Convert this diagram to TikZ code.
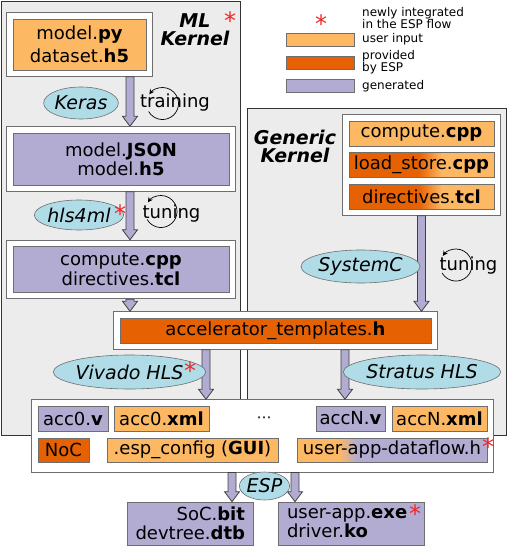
\documentclass[tikz,border=0pt]{standalone}
\usepackage{fontspec}
\setmainfont{DejaVu Sans}
\newfontfamily\keyfont{DejaVu Sans}
\usetikzlibrary{
  arrows.meta,
  positioning,
  fit,
  calc,
  shapes.geometric,
  backgrounds
}
\definecolor{UserOrange}{RGB}{253,184,99}
\definecolor{EspOrange}{RGB}{230,97,1}
\definecolor{GenPurple}{RGB}{178,171,210}
\definecolor{ToolBlue}{RGB}{176,220,232}
\definecolor{PanelGray}{RGB}{236,236,236}
\definecolor{EdgeGray}{RGB}{110,110,110}
\definecolor{StarRed}{RGB}{240,40,40}
\pgfdeclarehorizontalshading{espmix}{100bp}{color(0bp)=(EspOrange); color(49bp)=(EspOrange); color(57bp)=(UserOrange); color(100bp)=(UserOrange)}
\pgfdeclarehorizontalshading{usermix}{100bp}{color(0bp)=(UserOrange); color(36bp)=(UserOrange); color(41bp)=(GenPurple); color(100bp)=(GenPurple)}
\tikzset{
  panel/.style={draw=black!80,fill=PanelGray,line width=0.8pt,anchor=north west,inner sep=0pt},
  holder/.style={draw=EdgeGray,fill=white,line width=0.8pt,inner sep=6pt},
  filebox/.style={draw=EdgeGray,line width=0.6pt,inner sep=0pt,align=center,font=\fontsize{18}{19}\selectfont},
  userfile/.style={filebox,fill=UserOrange},
  espfile/.style={filebox,fill=EspOrange},
  genfile/.style={filebox,fill=GenPurple},
  mixfile/.style={filebox,shade,shading=espmix},
  mixgen/.style={filebox,shade,shading=usermix},
  tool/.style={ellipse,draw=EdgeGray,fill=ToolBlue,line width=0.6pt,inner sep=0pt,font=\fontsize{19}{19}\selectfont\itshape},
  kerneltitle/.style={align=center,inner sep=0pt,font=\fontsize{19}{18}\selectfont\bfseries\itshape},
  steplabel/.style={inner sep=0pt,font=\fontsize{18}{18}\selectfont},
  keytext/.style={anchor=west,align=left,inner sep=0pt,font=\keyfont\fontsize{12}{12.5}\selectfont},
  keybox/.style={draw=EdgeGray,line width=0.6pt,minimum width=68,minimum height=13,inner sep=0pt},
  newmark/.style={inner sep=0pt,text=StarRed,yshift=-5.9pt,font=\fontsize{24}{24}\selectfont},
  flow/.style={draw=black!75,fill=GenPurple,line width=0.8pt,
    to path={let \p1=(\tikztostart),\p2=(\tikztotarget) in
      (\x1-4pt,\y1) -- (\x1-4pt,\y2+10pt) -- (\x1-7.5pt,\y2+10pt) -- (\x1,\y2)
      -- (\x1+7.5pt,\y2+10pt) -- (\x1+4pt,\y2+10pt) -- (\x1+4pt,\y1) -- cycle}},
  spin/.style={-{Stealth[length=5pt,width=5pt]},line width=0.7pt}
}
\begin{document}
\begin{tikzpicture}[x=1pt,y=-1pt]
\useasboundingbox (0,0) rectangle (507,546);

% ML kernel files
\node[userfile,minimum width=133,minimum height=51,font=\fontsize{18}{23}\selectfont] (mlin) at (79.5,44.5) {model.\textbf{py}\\dataset.\textbf{h5}};
\node[genfile,minimum width=216,minimum height=52] (mljson) at (121,159) {model.\textbf{JSON}\\model.\textbf{h5}};
\node[genfile,minimum width=216,minimum height=46,font=\fontsize{18}{20}\selectfont] (mlhls) at (121,269.5) {compute.\textbf{cpp}\\directives.\textbf{tcl}};

% generic kernel files
\node[userfile,minimum width=145,minimum height=25] (gencomp) at (421.5,133.5) {compute.\textbf{cpp}};
\node[mixfile,minimum width=145,minimum height=25] (genls) at (421.5,164.5) {load\_store.\textbf{cpp}};
\node[mixfile,minimum width=145,minimum height=25] (gendir) at (421.5,196.5) {directives.\textbf{tcl}};

\node[espfile,minimum width=311,minimum height=25] (accel) at (275.5,330.5) {accelerator\_templates.\textbf{h}};

% ESP inputs
\node[genfile,minimum width=70,minimum height=25] (acc0v) at (73,418.5) {acc0.\textbf{v}};
\node[userfile,minimum width=95,minimum height=25] (acc0xml) at (161.5,418.5) {acc0.\textbf{xml}};
\node[steplabel,font=\fontsize{15}{15}\selectfont] (dots) at (264,420) {⋯};
\node[genfile,minimum width=69,minimum height=25] (accNv) at (350.5,418.5) {accN.\textbf{v}};
\node[userfile,minimum width=95,minimum height=25] (accNxml) at (439.5,418.5) {accN.\textbf{xml}};
\node[espfile,minimum width=51,minimum height=24] (noc) at (63.5,450) {NoC};
\node[userfile,minimum width=171,minimum height=24] (espcfg) at (192.5,450) {.esp\_config (\textbf{GUI})};
\node[mixgen,minimum width=190,minimum height=24] (dflow) at (392,450) {user-app-dataflow.h};
\coordinate (botedge) at (264,466);

% outputs
\node[genfile,minimum width=126,minimum height=43,text width=110,align=right] (socout) at (190,523.5) {SoC.\textbf{bit}\\devtree.\textbf{dtb}};
\node[genfile,minimum width=146,minimum height=43,text width=128,align=left] (appout) at (351,523.5) {user-app.\textbf{exe}\\driver.\textbf{ko}};

\begin{scope}[on background layer]
  \node[panel,minimum width=239,minimum height=434] (mlpanel) at (1,1) {};
  \node[panel,minimum width=259,minimum height=327] (genpanel) at (246.5,108) {};
  \node[holder,fit=(mlin)] (mlinbox) {};
  \node[holder,fit=(mljson)] (mljsonbox) {};
  \node[holder,fit=(mlhls)] (mlhlsbox) {};
  \node[holder,fit=(gencomp)(gendir)] (genbox) {};
  \node[holder,fit=(accel)] (accelbox) {};
  \node[holder,fit=(acc0v)(accNxml)(noc)(dflow)(botedge)] (espbox) {};
\end{scope}

\node[kerneltitle] (mltitle) at (195,30) {ML\\Kernel};
\node[kerneltitle] (gentitle) at (295,146) {Generic\\Kernel};

% legend
\node[newmark] (keystar) at (321,18) {*};
\node[keytext] (keynew) at (362,18) {newly integrated\\in the ESP flow};
\node[keybox,fill=UserOrange] (keyuser) at (320,40) {};
\node[keytext] at (362,39) {user input};
\node[keybox,fill=EspOrange] (keyesp) at (320,63) {};
\node[keytext] at (362,62) {provided\\by ESP};
\node[keybox,fill=GenPurple] (keygen) at (320,86) {};
\node[keytext] at (362,86) {generated};

% flow arrows
\coordinate (mlx) at (130,0);
\draw[flow] (mlinbox.south -| mlx) to (mljsonbox.north -| mlx);
\draw[flow] (mljsonbox.south -| mlx) to (mlhlsbox.north -| mlx);
\draw[flow] (mlhlsbox.south -| mlx) to (accelbox.north -| mlx);
\draw[flow] (genbox.south) to (accelbox.north -| genbox.south);
\coordinate (vivx) at (206,0);
\coordinate (strx) at (345,0);
\draw[flow] (accelbox.south -| vivx) to (espbox.north -| vivx);
\draw[flow] (accelbox.south -| strx) to (espbox.north -| strx);
\coordinate (socx) at (232,0);
\coordinate (appx) at (295,0);
\draw[flow] (espbox.south -| socx) to (socout.north -| socx);
\draw[flow] (espbox.south -| appx) to (appout.north -| appx);

% tools
\node[tool,minimum width=72,minimum height=32] (keras) at (81,103) {Keras};
\node[tool,minimum width=88,minimum height=30] (hlsml) at (79,215) {hls4ml};
\node[tool,minimum width=111,minimum height=33] (systemc) at (360.5,266.5) {SystemC};
\node[tool,minimum width=125,minimum height=34] (vivado) at (129.5,372) {Vivado HLS};
\node[tool,minimum width=130,minimum height=34] (stratus) at (422,372) {Stratus HLS};
\node[tool,minimum width=46,minimum height=28] (esp) at (264.5,486) {ESP};

% iterations
\node[steplabel] (training) at (175,103) {training};
\node[steplabel] (tuneml) at (171.5,214) {tuning};
\node[steplabel] (tunegen) at (468.5,266) {tuning};
\coordinate (trainspin) at (162.5,103.5);
\coordinate (tunemlspin) at (161,211.5);
\coordinate (tunegenspin) at (456,265);
\foreach \c in {trainspin,tunemlspin,tunegenspin}{
  \draw[spin] (\c) ++(210:16pt) arc[start angle=210,end angle=505,radius=16pt];
}

% new in the ESP flow
\node[newmark] (mlstar) at (230,15) {*};
\node[newmark] (hlsstar) at (120,208) {*};
\node[newmark] (vivstar) at (190,365) {*};
\node[newmark] (dflowstar) at (488,441) {*};
\node[newmark] (appstar) at (415,508) {*};
\end{tikzpicture}
\end{document}
